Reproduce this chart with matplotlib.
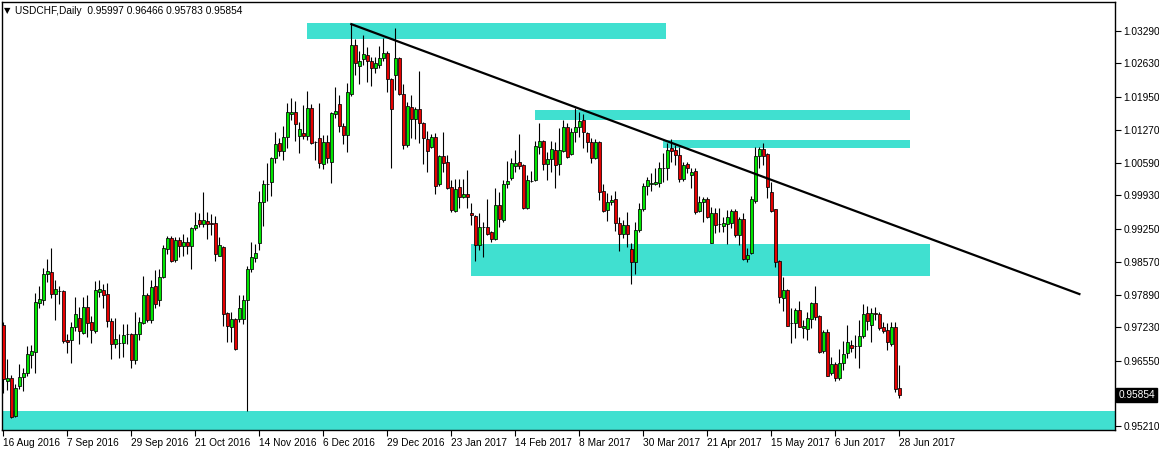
import matplotlib
matplotlib.use("Agg")
import matplotlib.pyplot as plt
import matplotlib.transforms as mtransforms
from matplotlib.patches import Rectangle
import numpy as np

plt.rcParams['font.family'] = ['Liberation Sans', 'DejaVu Sans']
plt.rcParams['font.size'] = 7

# daily USDCHF bars, 16 Aug 2016 .. 28 Jun 2017
opens = [0.9728, 0.9613, 0.9619, 0.9542, 0.9603, 0.9621, 0.9630, 0.9666, 0.9673, 0.9773,
         0.9779, 0.9832, 0.9836, 0.9791, 0.9797, 0.9797, 0.9697, 0.9697, 0.9724, 0.9742,
         0.9711, 0.9765, 0.9734, 0.9716, 0.9795, 0.9799, 0.9791, 0.9736, 0.9689, 0.9691,
         0.9691, 0.9709, 0.9709, 0.9656, 0.9709, 0.9732, 0.9789, 0.9738, 0.9808, 0.9779,
         0.9826, 0.9883, 0.9906, 0.9861, 0.9902, 0.9889, 0.9898, 0.9889, 0.9926, 0.9943,
         0.9934, 0.9941, 0.9936, 0.9936, 0.9869, 0.9887, 0.9752, 0.9724, 0.9740, 0.9740,
         0.9740, 0.9779, 0.9842, 0.9865, 0.9896, 0.9979, 1.0016, 1.0020, 1.0069, 1.0100,
         1.0084, 1.0112, 1.0159, 1.0163, 1.0114, 1.0120, 1.0114, 1.0172, 1.0102, 1.0110,
         1.0057, 1.0102, 1.0061, 1.0159, 1.0180, 1.0135, 1.0116, 1.0200, 1.0300, 1.0257,
         1.0272, 1.0280, 1.0268, 1.0253, 1.0260, 1.0274, 1.0284, 1.0231, 1.0239, 1.0274,
         1.0200, 1.0096, 1.0174, 1.0149, 1.0170, 1.0141, 1.0108, 1.0092, 1.0112, 1.0016,
         1.0073, 1.0061, 1.0010, 0.9961, 1.0010, 0.9990, 0.9996, 0.9957, 0.9951, 0.9891,
         0.9928, 0.9928, 0.9918, 0.9904, 0.9973, 0.9943, 1.0016, 1.0028, 1.0053, 1.0061,
         1.0055, 0.9967, 1.0022, 1.0024, 1.0092, 1.0104, 1.0057, 1.0067, 1.0086, 1.0057,
         1.0084, 1.0133, 1.0077, 1.0122, 1.0133, 1.0147, 1.0120, 1.0102, 1.0069, 1.0102,
         1.0002, 0.9963, 0.9979, 0.9985, 0.9936, 0.9914, 0.9932, 0.9883, 0.9857, 0.9922,
         0.9965, 1.0012, 1.0016, 1.0016, 1.0018, 1.0049, 1.0049, 1.0090, 1.0086, 1.0075,
         1.0026, 1.0057, 1.0035, 1.0043, 0.9961, 0.9979, 0.9985, 0.9896, 0.9957, 0.9934,
         0.9930, 0.9934, 0.9936, 0.9961, 0.9912, 0.9945, 0.9863, 0.9875, 0.9981, 1.0073,
         1.0088, 1.0077, 1.0000, 0.9965, 0.9859, 0.9783, 0.9799, 0.9732, 0.9732, 0.9758,
         0.9722, 0.9720, 0.9740, 0.9773, 0.9746, 0.9675, 0.9713, 0.9630, 0.9648, 0.9619,
         0.9650, 0.9671, 0.9687, 0.9685, 0.9685, 0.9705, 0.9752, 0.9728, 0.9752, 0.9750,
         0.9724, 0.9718, 0.9689, 0.9724, 0.95997]

highs = [0.9734, 0.9658, 0.9626, 0.9607, 0.9648, 0.9640, 0.9685, 0.9687, 0.9793, 0.9808,
         0.9844, 0.9863, 0.9885, 0.9820, 0.9808, 0.9799, 0.9709, 0.9734, 0.9785, 0.9765,
         0.9785, 0.9789, 0.9746, 0.9818, 0.9820, 0.9812, 0.9814, 0.9742, 0.9742, 0.9709,
         0.9730, 0.9730, 0.9711, 0.9754, 0.9744, 0.9828, 0.9793, 0.9820, 0.9840, 0.9842,
         0.9891, 0.9910, 0.9910, 0.9908, 0.9908, 0.9914, 0.9908, 0.9928, 0.9959, 0.9957,
         1.0000, 0.9959, 0.9955, 0.9951, 0.9908, 0.9889, 0.9754, 0.9754, 0.9742, 0.9789,
         0.9789, 0.9848, 0.9898, 0.9893, 1.0002, 1.0024, 1.0059, 1.0071, 1.0122, 1.0110,
         1.0135, 1.0182, 1.0192, 1.0186, 1.0143, 1.0178, 1.0206, 1.0180, 1.0104, 1.0182,
         1.0116, 1.0116, 1.0163, 1.0215, 1.0198, 1.0141, 1.0223, 1.0343, 1.0313, 1.0288,
         1.0321, 1.0296, 1.0276, 1.0276, 1.0298, 1.0315, 1.0288, 1.0233, 1.0335, 1.0276,
         1.0221, 1.0184, 1.0198, 1.0174, 1.0247, 1.0143, 1.0124, 1.0118, 1.0120, 1.0075,
         1.0122, 1.0075, 1.0024, 1.0026, 1.0026, 1.0026, 1.0045, 0.9977, 0.9953, 0.9957,
         0.9938, 0.9985, 0.9920, 1.0008, 1.0000, 1.0024, 1.0063, 1.0069, 1.0086, 1.0118,
         1.0057, 1.0035, 1.0043, 1.0104, 1.0141, 1.0106, 1.0082, 1.0104, 1.0102, 1.0131,
         1.0147, 1.0141, 1.0131, 1.0172, 1.0163, 1.0159, 1.0122, 1.0110, 1.0108, 1.0104,
         1.0016, 0.9998, 0.9994, 1.0002, 0.9949, 0.9943, 0.9959, 0.9896, 0.9938, 0.9977,
         1.0018, 1.0030, 1.0039, 1.0049, 1.0061, 1.0080, 1.0100, 1.0108, 1.0096, 1.0092,
         1.0061, 1.0061, 1.0049, 1.0049, 0.9992, 0.9990, 0.9990, 0.9969, 0.9967, 0.9967,
         0.9949, 0.9963, 0.9965, 0.9965, 0.9949, 0.9957, 0.9885, 0.9992, 1.0092, 1.0092,
         1.0100, 1.0080, 1.0020, 0.9965, 0.9861, 0.9826, 0.9801, 0.9763, 0.9763, 0.9777,
         0.9738, 0.9754, 0.9775, 0.9808, 0.9748, 0.9718, 0.9720, 0.9662, 0.9652, 0.9679,
         0.9695, 0.9728, 0.9697, 0.9707, 0.9738, 0.9771, 0.9767, 0.9763, 0.9765, 0.9754,
         0.9734, 0.9732, 0.9734, 0.9734, 0.96466]

lows = [0.9589, 0.9595, 0.9538, 0.9540, 0.9597, 0.9593, 0.9623, 0.9640, 0.9630, 0.9763,
        0.9769, 0.9816, 0.9783, 0.9738, 0.9771, 0.9691, 0.9671, 0.9650, 0.9716, 0.9689,
        0.9709, 0.9703, 0.9691, 0.9711, 0.9785, 0.9763, 0.9724, 0.9658, 0.9681, 0.9660,
        0.9662, 0.9689, 0.9640, 0.9648, 0.9697, 0.9730, 0.9734, 0.9732, 0.9763, 0.9767,
        0.9824, 0.9873, 0.9857, 0.9857, 0.9867, 0.9869, 0.9873, 0.9842, 0.9922, 0.9928,
        0.9928, 0.9904, 0.9912, 0.9859, 0.9869, 0.9726, 0.9693, 0.9693, 0.9677, 0.9734,
        0.9730, 0.9552, 0.9836, 0.9857, 0.9881, 0.9930, 0.9981, 0.9992, 1.0059, 1.0073,
        1.0065, 1.0090, 1.0147, 1.0104, 1.0080, 1.0108, 1.0106, 1.0098, 1.0065, 1.0049,
        1.0047, 1.0059, 1.0018, 1.0151, 1.0122, 1.0098, 1.0082, 1.0196, 1.0239, 1.0221,
        1.0260, 1.0225, 1.0217, 1.0243, 1.0253, 1.0268, 1.0204, 1.0049, 1.0208, 1.0198,
        1.0088, 1.0092, 1.0110, 1.0108, 1.0100, 1.0057, 1.0041, 1.0090, 0.9996, 1.0012,
        1.0041, 1.0006, 0.9959, 0.9959, 0.9967, 0.9987, 0.9967, 0.9932, 0.9859, 0.9881,
        0.9867, 0.9912, 0.9898, 0.9902, 0.9928, 0.9938, 1.0008, 1.0024, 1.0041, 1.0047,
        0.9965, 0.9965, 1.0020, 1.0022, 1.0077, 1.0045, 1.0024, 1.0041, 1.0008, 1.0035,
        1.0082, 1.0069, 1.0075, 1.0102, 1.0112, 1.0090, 1.0082, 1.0059, 1.0067, 0.9983,
        0.9959, 0.9940, 0.9973, 0.9920, 0.9879, 0.9906, 0.9887, 0.9812, 0.9832, 0.9918,
        0.9961, 0.9994, 1.0002, 1.0014, 1.0010, 1.0020, 1.0024, 1.0061, 1.0055, 1.0020,
        1.0022, 1.0039, 1.0008, 0.9955, 0.9959, 0.9938, 0.9947, 0.9896, 0.9916, 0.9918,
        0.9918, 0.9893, 0.9926, 0.9908, 0.9891, 0.9861, 0.9857, 0.9873, 0.9977, 1.0049,
        1.0055, 0.9987, 0.9959, 0.9846, 0.9773, 0.9756, 0.9726, 0.9691, 0.9701, 0.9724,
        0.9701, 0.9697, 0.9722, 0.9738, 0.9671, 0.9671, 0.9623, 0.9626, 0.9613, 0.9615,
        0.9636, 0.9660, 0.9673, 0.9660, 0.9640, 0.9701, 0.9718, 0.9693, 0.9738, 0.9718,
        0.9711, 0.9677, 0.9685, 0.9591, 0.95783]

closes = [0.9617, 0.9619, 0.9540, 0.9599, 0.9621, 0.9630, 0.9668, 0.9675, 0.9775, 0.9781,
          0.9832, 0.9838, 0.9791, 0.9801, 0.9797, 0.9695, 0.9693, 0.9724, 0.9750, 0.9716,
          0.9765, 0.9732, 0.9717, 0.9799, 0.9801, 0.9789, 0.9736, 0.9689, 0.9699, 0.9691,
          0.9707, 0.9709, 0.9656, 0.9709, 0.9734, 0.9789, 0.9738, 0.9806, 0.9771, 0.9826,
          0.9885, 0.9906, 0.9859, 0.9902, 0.9889, 0.9898, 0.9889, 0.9926, 0.9932, 0.9934,
          0.9943, 0.9934, 0.9934, 0.9873, 0.9891, 0.9750, 0.9726, 0.9740, 0.9679, 0.9763,
          0.9779, 0.9842, 0.9867, 0.9875, 0.9979, 1.0016, 1.0016, 1.0069, 1.0098, 1.0084,
          1.0112, 1.0163, 1.0163, 1.0139, 1.0129, 1.0114, 1.0172, 1.0100, 1.0102, 1.0059,
          1.0102, 1.0069, 1.0161, 1.0165, 1.0135, 1.0116, 1.0204, 1.0300, 1.0264, 1.0268,
          1.0282, 1.0268, 1.0253, 1.0264, 1.0274, 1.0284, 1.0231, 1.0170, 1.0274, 1.0200,
          1.0096, 1.0176, 1.0149, 1.0170, 1.0141, 1.0110, 1.0084, 1.0112, 1.0012, 1.0073,
          1.0059, 1.0008, 0.9963, 1.0006, 0.9990, 0.9996, 0.9990, 0.9953, 0.9891, 0.9928,
          0.9928, 0.9914, 0.9904, 0.9973, 0.9945, 1.0016, 1.0022, 1.0059, 1.0059, 1.0053,
          0.9967, 1.0024, 1.0022, 1.0094, 1.0104, 1.0057, 1.0067, 1.0088, 1.0055, 1.0086,
          1.0133, 1.0071, 1.0122, 1.0133, 1.0145, 1.0122, 1.0102, 1.0069, 1.0102, 1.0000,
          0.9961, 0.9979, 0.9983, 0.9936, 0.9914, 0.9932, 0.9914, 0.9857, 0.9922, 0.9965,
          1.0012, 1.0024, 1.0018, 1.0020, 1.0049, 1.0049, 1.0086, 1.0084, 1.0075, 1.0026,
          1.0055, 1.0049, 1.0041, 0.9959, 0.9979, 0.9985, 0.9949, 0.9957, 0.9932, 0.9934,
          0.9936, 0.9949, 0.9961, 0.9912, 0.9945, 0.9863, 0.9871, 0.9985, 1.0073, 1.0088,
          1.0073, 1.0010, 0.9961, 0.9857, 0.9785, 0.9799, 0.9726, 0.9732, 0.9758, 0.9724,
          0.9726, 0.9742, 0.9773, 0.9744, 0.9673, 0.9713, 0.9623, 0.9648, 0.9619, 0.9650,
          0.9668, 0.9693, 0.9681, 0.9685, 0.9705, 0.9750, 0.9736, 0.9752, 0.9750, 0.9722,
          0.9716, 0.9693, 0.9724, 0.9597, 0.95854]

date_labels = ['16 Aug 2016', '7 Sep 2016', '29 Sep 2016', '21 Oct 2016', '14 Nov 2016',
               '6 Dec 2016', '29 Dec 2016', '23 Jan 2017', '14 Feb 2017', '8 Mar 2017',
               '30 Mar 2017', '21 Apr 2017', '15 May 2017', '6 Jun 2017', '28 Jun 2017']
price_ticks = [1.03290, 1.02630, 1.01950, 1.01270, 1.00590, 0.99930, 0.99250,
               0.98570, 0.97890, 0.97230, 0.96550, 0.95210]

# drawn zones: (first bar, last bar, upper price, lower price)
zones = [(75.9, 165.7, 1.03454, 1.03126),
         (132.9, 226.7, 1.01674, 1.01470),
         (164.9, 226.7, 1.01061, 1.00897),
         (116.9, 231.7, 0.98934, 0.98279),
         (-5.0, 300.0, 0.95519, 0.94800)]
trend_bars = [87, 269]
trend_prices = [1.0343, 0.9791]

o = np.array(opens)
h = np.array(highs)
l = np.array(lows)
c = np.array(closes)
x = np.arange(len(o))

fig = plt.figure(figsize=(11.59, 4.5), dpi=100)
ax = fig.add_axes([2 / 1159, 20 / 450, 1113 / 1159, 428 / 450])
ax.set_xlim(-0.33, 277.9)
ax.set_ylim(0.9513, 1.03883)

for x0, x1, top, bot in zones:
    ax.add_patch(Rectangle((x0, bot), x1 - x0, top - bot, facecolor='#40e0d0',
                           edgecolor='none', zorder=1))

ax.vlines(x, l, h, color='black', linewidth=0.8, zorder=3)
up = c >= o
body_lo = np.minimum(o, c)
body_h = np.abs(c - o)
ax.bar(x[up], body_h[up], bottom=body_lo[up], width=0.62, color='#00e600',
       edgecolor='black', linewidth=0.55, zorder=4)
ax.bar(x[~up], body_h[~up], bottom=body_lo[~up], width=0.62, color='#e60000',
       edgecolor='black', linewidth=0.55, zorder=4)

ax.plot(trend_bars, trend_prices, color='black', linewidth=1.6, zorder=5)

ax.yaxis.tick_right()
ax.set_yticks(price_ticks)
ax.set_yticklabels(['%.5f' % p for p in price_ticks])
ax.set_xticks(np.arange(0, len(o), 16))
ax.set_xticklabels(date_labels, ha='left')
ax.tick_params(axis='both', direction='out', length=4, width=0.8, labelsize=7.3,
               color='black', pad=2)
for sp in ax.spines.values():
    sp.set_linewidth(1.0)

# current price marker on the right scale
trans = mtransforms.blended_transform_factory(ax.transAxes, ax.transData)
ax.text(1.003, c[-1], '%.5f' % c[-1], transform=trans, ha='left', va='center',
        color='white', fontsize=7.3,
        bbox=dict(boxstyle='square,pad=0.2', facecolor='black', edgecolor='black'))

fig.text(4 / 1159, 1 - 11 / 450, '\u25bc', fontsize=6, va='center', ha='left',
         family='DejaVu Sans')
fig.text(15 / 1159, 1 - 11 / 450, 'USDCHF,Daily  0.95997 0.96466 0.95783 0.95854',
         fontsize=7.3, va='center', ha='left')

fig.savefig('out.png', dpi=100, facecolor='white')
